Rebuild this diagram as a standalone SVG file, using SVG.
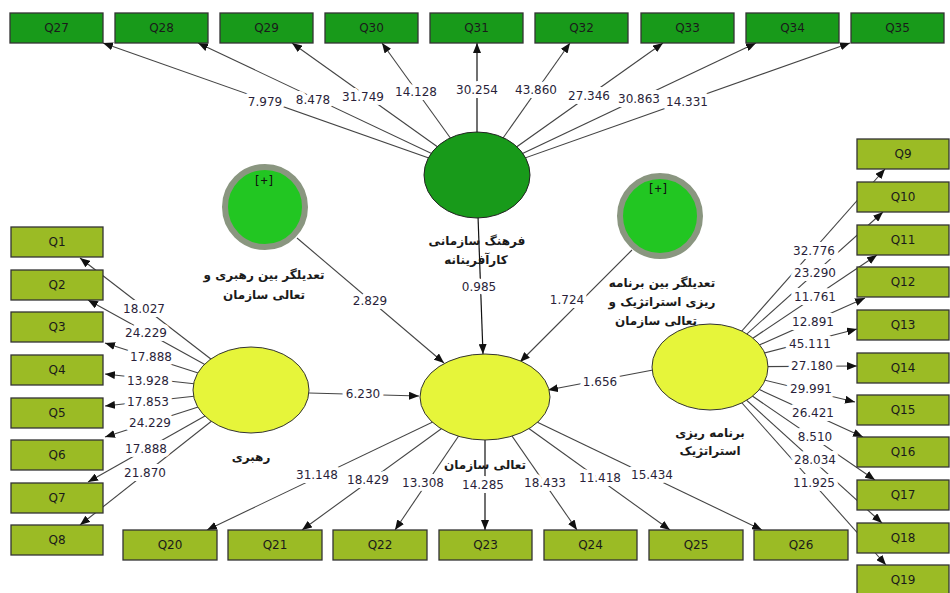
<svg xmlns="http://www.w3.org/2000/svg" width="950" height="593" viewBox="0 0 950 593">
<style>
.bg{fill:#fff}
.ln{stroke:#444;stroke-width:1.1;fill:none}
.lk{stroke:#111;stroke-width:1.2;fill:none}
.lb{font-family:"DejaVu Sans",sans-serif;font-size:12px;fill:#2a1f3a;text-anchor:middle;dominant-baseline:central;stroke:#fff;stroke-width:8px;paint-order:stroke;stroke-linejoin:round}
.bx1{fill:#189a1a;stroke:#333;stroke-width:1.3}
.bx2{fill:#9bbb25;stroke:#333;stroke-width:1.3}
.bt{font-family:"DejaVu Sans",sans-serif;font-size:12px;fill:#1a1a1a;text-anchor:middle;dominant-baseline:central}
.fa{font-family:"DejaVu Sans","Noto Sans",sans-serif;font-size:12px;font-weight:bold;fill:#1a1a1a;text-anchor:middle;dominant-baseline:central}
.ell{fill:#e6f53a;stroke:#333;stroke-width:1}
.mod{fill:#22c622;stroke:#8a9680;stroke-width:6}
.pl{font-family:"DejaVu Sans Mono",monospace;font-size:12px;fill:#111;text-anchor:middle;dominant-baseline:central}
</style>
<defs>
<marker id="ar" viewBox="0 0 10 8" refX="10" refY="4" markerWidth="10" markerHeight="8" markerUnits="userSpaceOnUse" orient="auto">
<path d="M0,0 L10,4 L0,8 z" fill="#111"/>
</marker>
</defs>
<rect class="bg" x="0" y="0" width="950" height="593"/>
<g id="connectors">
<line class="ln" x1="477" y1="175" x2="103" y2="43" marker-end="url(#ar)"/>
<line class="ln" x1="477" y1="175" x2="198" y2="43" marker-end="url(#ar)"/>
<line class="ln" x1="477" y1="175" x2="292" y2="43" marker-end="url(#ar)"/>
<line class="ln" x1="477" y1="175" x2="382" y2="43" marker-end="url(#ar)"/>
<line class="lk" x1="477" y1="175" x2="477" y2="43" marker-end="url(#ar)"/>
<line class="ln" x1="477" y1="175" x2="570" y2="43" marker-end="url(#ar)"/>
<line class="ln" x1="477" y1="175" x2="663" y2="43" marker-end="url(#ar)"/>
<line class="ln" x1="477" y1="175" x2="756" y2="43" marker-end="url(#ar)"/>
<line class="ln" x1="477" y1="175" x2="850" y2="43" marker-end="url(#ar)"/>
<line class="ln" x1="251" y1="390" x2="80" y2="258" marker-end="url(#ar)"/>
<line class="ln" x1="251" y1="390" x2="88" y2="300" marker-end="url(#ar)"/>
<line class="ln" x1="251" y1="390" x2="105" y2="343" marker-end="url(#ar)"/>
<line class="ln" x1="251" y1="390" x2="105" y2="374" marker-end="url(#ar)"/>
<line class="ln" x1="251" y1="390" x2="105" y2="406" marker-end="url(#ar)"/>
<line class="ln" x1="251" y1="390" x2="105" y2="437" marker-end="url(#ar)"/>
<line class="ln" x1="251" y1="390" x2="88" y2="482" marker-end="url(#ar)"/>
<line class="ln" x1="251" y1="390" x2="80" y2="525" marker-end="url(#ar)"/>
<line class="ln" x1="485" y1="397" x2="207" y2="530" marker-end="url(#ar)"/>
<line class="ln" x1="485" y1="397" x2="302" y2="530" marker-end="url(#ar)"/>
<line class="ln" x1="485" y1="397" x2="395" y2="530" marker-end="url(#ar)"/>
<line class="lk" x1="485" y1="397" x2="485" y2="530" marker-end="url(#ar)"/>
<line class="ln" x1="485" y1="397" x2="577" y2="530" marker-end="url(#ar)"/>
<line class="ln" x1="485" y1="397" x2="670" y2="530" marker-end="url(#ar)"/>
<line class="ln" x1="485" y1="397" x2="762" y2="530" marker-end="url(#ar)"/>
<line class="ln" x1="710" y1="367" x2="885" y2="169" marker-end="url(#ar)"/>
<line class="ln" x1="710" y1="367" x2="883" y2="212" marker-end="url(#ar)"/>
<line class="ln" x1="710" y1="367" x2="877" y2="255" marker-end="url(#ar)"/>
<line class="ln" x1="710" y1="367" x2="865" y2="298" marker-end="url(#ar)"/>
<line class="ln" x1="710" y1="367" x2="857" y2="329" marker-end="url(#ar)"/>
<line class="ln" x1="710" y1="367" x2="857" y2="366" marker-end="url(#ar)"/>
<line class="ln" x1="710" y1="367" x2="855" y2="402" marker-end="url(#ar)"/>
<line class="ln" x1="710" y1="367" x2="863" y2="437" marker-end="url(#ar)"/>
<line class="ln" x1="710" y1="367" x2="875" y2="480" marker-end="url(#ar)"/>
<line class="ln" x1="710" y1="367" x2="882" y2="523" marker-end="url(#ar)"/>
<line class="ln" x1="710" y1="367" x2="886" y2="565" marker-end="url(#ar)"/>
<line class="ln" x1="297" y1="238" x2="444" y2="363" marker-end="url(#ar)"/>
<line class="lk" x1="478" y1="216" x2="483" y2="354" marker-end="url(#ar)"/>
<line class="ln" x1="632" y1="250" x2="520" y2="362" marker-end="url(#ar)"/>
<line class="ln" x1="653" y1="370" x2="548" y2="390" marker-end="url(#ar)"/>
<line class="ln" x1="309" y1="393" x2="419" y2="396" marker-end="url(#ar)"/>
<text class="lb" x="265" y="102">7.979</text>
<text class="lb" x="313" y="100">8.478</text>
<text class="lb" x="363" y="97">31.749</text>
<text class="lb" x="416" y="92">14.128</text>
<text class="lb" x="477" y="90">30.254</text>
<text class="lb" x="536" y="90">43.860</text>
<text class="lb" x="589" y="96">27.346</text>
<text class="lb" x="639" y="99">30.863</text>
<text class="lb" x="687" y="102">14.331</text>
<text class="lb" x="144" y="309">18.027</text>
<text class="lb" x="146" y="333">24.229</text>
<text class="lb" x="151" y="357">17.888</text>
<text class="lb" x="148" y="381">13.928</text>
<text class="lb" x="148" y="402">17.853</text>
<text class="lb" x="150" y="423">24.229</text>
<text class="lb" x="146" y="449">17.888</text>
<text class="lb" x="145" y="473">21.870</text>
<text class="lb" x="317" y="475">31.148</text>
<text class="lb" x="368" y="480">18.429</text>
<text class="lb" x="423" y="483">13.308</text>
<text class="lb" x="483" y="485">14.285</text>
<text class="lb" x="545" y="483">18.433</text>
<text class="lb" x="600" y="478">11.418</text>
<text class="lb" x="652" y="475">15.434</text>
<text class="lb" x="814" y="251">32.776</text>
<text class="lb" x="815" y="273">23.290</text>
<text class="lb" x="815" y="297">11.761</text>
<text class="lb" x="813" y="322">12.891</text>
<text class="lb" x="810" y="344">45.111</text>
<text class="lb" x="812" y="366">27.180</text>
<text class="lb" x="811" y="389">29.991</text>
<text class="lb" x="813" y="413">26.421</text>
<text class="lb" x="815" y="437">8.510</text>
<text class="lb" x="815" y="460">28.034</text>
<text class="lb" x="814" y="483">11.925</text>
<text class="lb" x="370" y="301">2.829</text>
<text class="lb" x="479" y="287">0.985</text>
<text class="lb" x="567" y="300">1.724</text>
<text class="lb" x="600" y="382">1.656</text>
<text class="lb" x="363" y="394">6.230</text>
</g>
<g id="culture">
<ellipse cx="477" cy="175" rx="53" ry="43" fill="#189a1a" stroke="#222" stroke-width="1"/>
<text class="fa" x="477" y="241">فرهنگ سازمانی</text>
<text class="fa" x="476" y="260">کارآفرینانه</text>
</g>
<g id="mod1">
<circle class="mod" cx="265" cy="207" r="40"/>
<text class="pl" x="264" y="181">[+]</text>
<text class="fa" x="264" y="275">تعدیلگر بین رهبری و</text>
<text class="fa" x="264" y="295">تعالی سازمان</text>
</g>
<g id="mod2">
<circle class="mod" cx="660" cy="216" r="40"/>
<text class="pl" x="658" y="189">[+]</text>
<text class="fa" x="662" y="283">تعدیلگر بین برنامه</text>
<text class="fa" x="662" y="302">ریزی استراتژیک و</text>
<text class="fa" x="656" y="321">تعالی سازمان</text>
</g>
<g id="leadership">
<ellipse class="ell" cx="251" cy="390" rx="58" ry="43"/>
<text class="fa" x="251" y="457">رهبری</text>
</g>
<g id="excellence">
<ellipse class="ell" cx="485" cy="397" rx="65" ry="43"/>
<text class="fa" x="485" y="465">تعالی سازمان</text>
</g>
<g id="strategic">
<ellipse class="ell" cx="710" cy="367" rx="58" ry="43"/>
<text class="fa" x="710" y="433">برنامه ریزی</text>
<text class="fa" x="710" y="451">استراتژیک</text>
</g>
<g id="Q27"><rect class="bx1" x="10" y="13" width="93" height="30"/><text class="bt" x="56.5" y="28">Q27</text></g>
<g id="Q28"><rect class="bx1" x="115" y="13" width="93" height="30"/><text class="bt" x="161.5" y="28">Q28</text></g>
<g id="Q29"><rect class="bx1" x="220" y="13" width="93" height="30"/><text class="bt" x="266.5" y="28">Q29</text></g>
<g id="Q30"><rect class="bx1" x="325" y="13" width="93" height="30"/><text class="bt" x="371.5" y="28">Q30</text></g>
<g id="Q31"><rect class="bx1" x="430" y="13" width="93" height="30"/><text class="bt" x="476.5" y="28">Q31</text></g>
<g id="Q32"><rect class="bx1" x="535" y="13" width="93" height="30"/><text class="bt" x="581.5" y="28">Q32</text></g>
<g id="Q33"><rect class="bx1" x="641" y="13" width="93" height="30"/><text class="bt" x="687.5" y="28">Q33</text></g>
<g id="Q34"><rect class="bx1" x="746" y="13" width="93" height="30"/><text class="bt" x="792.5" y="28">Q34</text></g>
<g id="Q35"><rect class="bx1" x="851" y="13" width="93" height="30"/><text class="bt" x="897.5" y="28">Q35</text></g>
<g id="Q1"><rect class="bx2" x="11" y="227" width="92" height="30"/><text class="bt" x="57" y="242">Q1</text></g>
<g id="Q2"><rect class="bx2" x="11" y="270" width="92" height="30"/><text class="bt" x="57" y="285">Q2</text></g>
<g id="Q3"><rect class="bx2" x="11" y="312" width="92" height="30"/><text class="bt" x="57" y="327">Q3</text></g>
<g id="Q4"><rect class="bx2" x="11" y="355" width="92" height="30"/><text class="bt" x="57" y="370">Q4</text></g>
<g id="Q5"><rect class="bx2" x="11" y="398" width="92" height="30"/><text class="bt" x="57" y="413">Q5</text></g>
<g id="Q6"><rect class="bx2" x="11" y="440" width="92" height="30"/><text class="bt" x="57" y="455">Q6</text></g>
<g id="Q7"><rect class="bx2" x="11" y="483" width="92" height="30"/><text class="bt" x="57" y="498">Q7</text></g>
<g id="Q8"><rect class="bx2" x="11" y="525" width="92" height="30"/><text class="bt" x="57" y="540">Q8</text></g>
<g id="Q9"><rect class="bx2" x="857" y="139" width="92" height="30"/><text class="bt" x="903" y="154">Q9</text></g>
<g id="Q10"><rect class="bx2" x="857" y="182" width="92" height="30"/><text class="bt" x="903" y="197">Q10</text></g>
<g id="Q11"><rect class="bx2" x="857" y="225" width="92" height="30"/><text class="bt" x="903" y="240">Q11</text></g>
<g id="Q12"><rect class="bx2" x="857" y="267" width="92" height="30"/><text class="bt" x="903" y="282">Q12</text></g>
<g id="Q13"><rect class="bx2" x="857" y="310" width="92" height="30"/><text class="bt" x="903" y="325">Q13</text></g>
<g id="Q14"><rect class="bx2" x="857" y="353" width="92" height="30"/><text class="bt" x="903" y="368">Q14</text></g>
<g id="Q15"><rect class="bx2" x="857" y="395" width="92" height="30"/><text class="bt" x="903" y="410">Q15</text></g>
<g id="Q16"><rect class="bx2" x="857" y="437" width="92" height="30"/><text class="bt" x="903" y="452">Q16</text></g>
<g id="Q17"><rect class="bx2" x="857" y="480" width="92" height="30"/><text class="bt" x="903" y="495">Q17</text></g>
<g id="Q18"><rect class="bx2" x="857" y="523" width="92" height="30"/><text class="bt" x="903" y="538">Q18</text></g>
<g id="Q19"><rect class="bx2" x="857" y="565" width="92" height="30"/><text class="bt" x="903" y="580">Q19</text></g>
<g id="Q20"><rect class="bx2" x="123" y="530" width="94" height="30"/><text class="bt" x="170" y="545">Q20</text></g>
<g id="Q21"><rect class="bx2" x="228" y="530" width="94" height="30"/><text class="bt" x="275" y="545">Q21</text></g>
<g id="Q22"><rect class="bx2" x="333" y="530" width="94" height="30"/><text class="bt" x="380" y="545">Q22</text></g>
<g id="Q23"><rect class="bx2" x="439" y="530" width="93" height="30"/><text class="bt" x="485.5" y="545">Q23</text></g>
<g id="Q24"><rect class="bx2" x="544" y="530" width="93" height="30"/><text class="bt" x="590.5" y="545">Q24</text></g>
<g id="Q25"><rect class="bx2" x="649" y="530" width="94" height="30"/><text class="bt" x="696" y="545">Q25</text></g>
<g id="Q26"><rect class="bx2" x="754" y="530" width="94" height="30"/><text class="bt" x="801" y="545">Q26</text></g>
</svg>
